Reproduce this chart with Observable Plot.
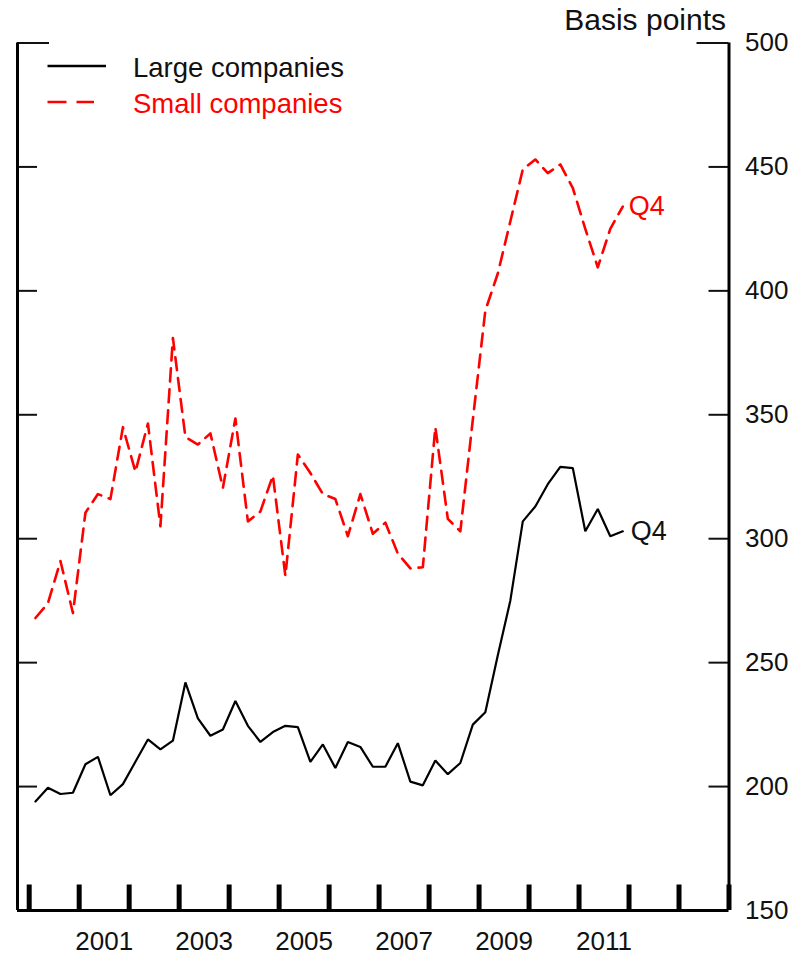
<!DOCTYPE html>
<html><head><meta charset="utf-8">
<script src="https://cdn.jsdelivr.net/npm/d3@7"></script>
<script src="https://cdn.jsdelivr.net/npm/@observablehq/plot@0.6"></script>
<style>
html,body{margin:0;padding:0;background:#fff;}
#wrap{position:relative;width:807px;height:957px;font-family:"Liberation Sans",Arial,sans-serif;}
#legend{position:absolute;left:0;top:0;pointer-events:none;}
</style></head><body><div id="wrap"></div>
<script>
// Quarterly observations, 2000 Q1 – 2011 Q4
const years = d3.range(2000, 2012);
const quarterNames = ["Q1", "Q2", "Q3", "Q4"];

// Large companies (basis points)
const large = [
  194, 199.5, 197, 197.5,
  209, 212, 196.5, 201,
  210, 219, 215, 218.5,
  242, 227.5, 220.5, 223,
  234.5, 224.5, 218, 222,
  224.5, 224, 210, 217,
  207.5, 218, 216, 208,
  208, 217.5, 202, 200.5,
  210.5, 205, 209.5, 225,
  230, 253, 275, 307,
  313, 322, 329, 328.5,
  303, 312, 301, 303
];

// Small companies (basis points)
const small = [
  268, 274, 291, 270,
  310.5, 318, 316, 345,
  327, 346.5, 305, 381,
  341, 338, 342.5, 320.5,
  348.5, 307, 311, 325.5,
  285, 334, 326.5, 318,
  316, 301, 318, 302,
  306.5, 294, 288, 288.5,
  345, 308, 303, 348,
  392, 407, 428, 449,
  453, 447.5, 451, 441.5,
  425, 409.5, 425, 434
];

const yearTicks = d3.range(2000, 2015);
const yearLabels = [2001, 2003, 2005, 2007, 2009, 2011];
const yTickValues = [150, 200, 250, 300, 350, 400, 450, 500];
const yInnerTicks = [200, 250, 300, 350, 400, 450];
const seriesNames = ["Large companies", "Small companies"];
const endLabel = "Q4";
const unitLabel = "Basis points";

const rows = [];
years.forEach((yr, yi) => quarterNames.forEach((qn, qi) => {
  const i = yi * 4 + qi;
  rows.push({t: yr + (qi + 0.5) / 4, q: `${yr} ${qn}`, large: large[i], small: small[i]});
}));
const last = rows[rows.length - 1];

const W = 807, H = 957;
const mL = 17, mR = 78.5, mT = 42.5, mB = 47;
const frameW = W - mL - mR, frameH = H - mT - mB;
const xDomain = [1999.766, 2014];
const font = "'Liberation Sans', Arial, sans-serif";

const chart = Plot.plot({
  width: W, height: H,
  marginLeft: mL, marginRight: mR, marginTop: mT, marginBottom: mB,
  style: {fontFamily: font, background: "white", color: "#111", overflow: "visible"},
  x: {type: "linear", domain: xDomain},
  y: {domain: [150, 500]},
  marks: [
    // inward ticks, left and right
    Plot.ruleY(yInnerTicks, {insetRight: frameW - 20, stroke: "#111", strokeWidth: 2}),
    Plot.ruleY(yInnerTicks, {insetLeft: frameW - 20, stroke: "#111", strokeWidth: 2}),
    Plot.ruleY([500], {insetRight: frameW - 32, stroke: "#111", strokeWidth: 2}),
    Plot.ruleY([500], {insetLeft: frameW - 32, stroke: "#111", strokeWidth: 2}),
    // axis lines
    Plot.ruleX([xDomain[0]], {stroke: "#000", strokeWidth: 3}),
    Plot.ruleX([xDomain[1]], {stroke: "#000", strokeWidth: 3}),
    Plot.ruleY([150], {stroke: "#000", strokeWidth: 3}),
    // year ticks
    Plot.ruleX(yearTicks, {insetTop: frameH - 25.5, stroke: "#000", strokeWidth: 5}),
    Plot.axisX({ticks: yearLabels.map(d => d + 0.5), tickFormat: d => String(Math.floor(d)),
      tickSize: 0, tickPadding: 21, fontSize: 26, fill: "#111", label: null}),
    Plot.axisY({anchor: "right", ticks: yTickValues, tickFormat: d => String(d),
      tickSize: 0, tickPadding: 16, fontSize: 26, fill: "#111", label: null}),
    // series
    Plot.line(rows, {x: "t", y: "large", stroke: "#000", strokeWidth: 2.2, strokeLinejoin: "miter"}),
    Plot.line(rows, {x: "t", y: "small", stroke: "#ff0000", strokeWidth: 2.6, strokeDasharray: "13,8"}),
    Plot.text([last], {x: "t", y: "large", text: () => endLabel, dx: 8, textAnchor: "start", fontSize: 27, fill: "#111"}),
    Plot.text([last], {x: "t", y: "small", text: () => endLabel, dx: 6, textAnchor: "start", fontSize: 27, fill: "#ff0000"}),
    Plot.text([unitLabel], {frameAnchor: "top-right", dx: -3, dy: -34, textAnchor: "end", lineAnchor: "top", fontSize: 30, fill: "#111"})
  ]
});

const wrap = document.getElementById("wrap");
wrap.appendChild(chart);

// Legend overlay
const ns = "http://www.w3.org/2000/svg";
const leg = document.createElementNS(ns, "svg");
leg.setAttribute("id", "legend");
leg.setAttribute("width", 400);
leg.setAttribute("height", 130);
const items = [
  {name: seriesNames[0], color: "#000", dash: null, y: 66, ty: 77, tc: "#111", sw: 2.4},
  {name: seriesNames[1], color: "#ff0000", dash: "19,10", y: 102, ty: 113, tc: "#ff0000", sw: 2.6}
];
items.forEach(it => {
  const l = document.createElementNS(ns, "line");
  l.setAttribute("x1", 47.5); l.setAttribute("x2", it.dash ? 94 : 106);
  l.setAttribute("y1", it.y); l.setAttribute("y2", it.y);
  l.setAttribute("stroke", it.color); l.setAttribute("stroke-width", it.sw);
  if (it.dash) l.setAttribute("stroke-dasharray", it.dash);
  leg.appendChild(l);
  const t = document.createElementNS(ns, "text");
  t.setAttribute("x", 133); t.setAttribute("y", it.ty);
  t.setAttribute("font-size", 27.5); t.setAttribute("fill", it.tc);
  t.setAttribute("font-family", font);
  t.textContent = it.name;
  leg.appendChild(t);
});
wrap.appendChild(leg);
</script></body></html>
